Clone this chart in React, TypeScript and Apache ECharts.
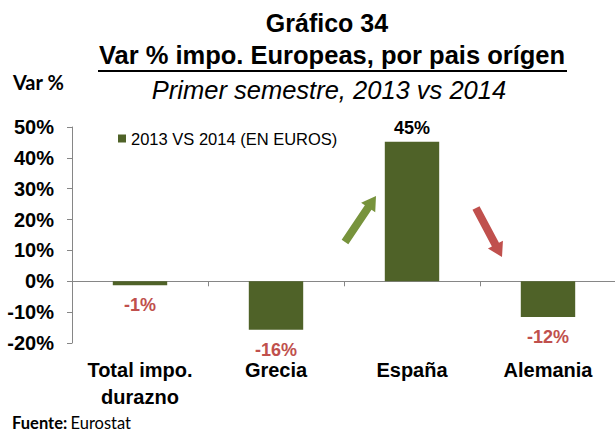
import React, { useEffect, useRef } from "react";
import * as echarts from "echarts";

const categories = ["Total impo.\ndurazno", "Grecia", "España", "Alemania"];
const values = [-1.3, -15.7, 45.2, -11.6];
const seriesName = "2013 VS 2014 (EN EUROS)";
const yTicks = { min: -20, max: 50, interval: 10 };

const BAR = "#4F6228";
const RED = "#C0504D";
const GREEN = "#77933C";
const AXIS = "#868686";
const FONT = "Liberation Sans, Arial, sans-serif";

function arrow(tail: number[], tip: number[], shaftW: number, headL: number, headW: number) {
  const dx = tip[0] - tail[0];
  const dy = tip[1] - tail[1];
  const len = Math.hypot(dx, dy);
  const ux = dx / len, uy = dy / len;
  const px = -uy, py = ux;
  const bx = tip[0] - ux * headL, by = tip[1] - uy * headL;
  const s = shaftW / 2, h = headW / 2;
  return [
    [tail[0] + px * s, tail[1] + py * s],
    [bx + px * s, by + py * s],
    [bx + px * h, by + py * h],
    [tip[0], tip[1]],
    [bx - px * h, by - py * h],
    [bx - px * s, by - py * s],
    [tail[0] - px * s, tail[1] - py * s],
  ];
}

export default function App() {
  const ref = useRef<HTMLDivElement>(null);
  useEffect(() => {
    document.body.style.margin = "0";
    const chart = echarts.init(ref.current!, null, { renderer: "svg" });
    chart.setOption({
      animation: false,
      backgroundColor: "#fff",
      textStyle: { fontFamily: FONT },
      grid: { left: 72, top: 127, width: 544, height: 216, containLabel: false, outerBoundsMode: "none" },
      legend: {
        left: 113,
        top: 125,
        itemWidth: 8,
        itemHeight: 8,
        icon: "rect",
        textStyle: { fontSize: 16.5, color: "#000", fontFamily: FONT },
        data: [seriesName],
      },
      xAxis: {
        type: "category",
        data: categories,
        axisLine: { show: true, onZero: true, lineStyle: { color: AXIS, width: 1 } },
        axisTick: { show: true, length: 5, alignWithLabel: false, lineStyle: { color: AXIS } },
        axisLabel: {
          margin: 13,
          fontSize: 20,
          fontWeight: "bold",
          color: "#000",
          lineHeight: 27,
          fontFamily: FONT,
          interval: 0,
        },
      },
      yAxis: {
        type: "value",
        min: yTicks.min,
        max: yTicks.max,
        interval: yTicks.interval,
        splitLine: { show: false },
        axisLine: { show: true, lineStyle: { color: AXIS } },
        axisTick: { show: true, length: 5, lineStyle: { color: AXIS } },
        axisLabel: {
          formatter: (v: number) => v + "%",
          fontSize: 20,
          fontWeight: "bold",
          color: "#000",
          margin: 18,
          fontFamily: FONT,
        },
      },
      series: [
        {
          name: seriesName,
          type: "bar",
          barWidth: "40%",
          itemStyle: { color: BAR },
          data: values.map((v) => ({
            value: v,
            label: {
              show: true,
              position: v < 0 ? "bottom" : "top",
              distance: v < 0 ? 11 : 5,
              color: v < 0 ? RED : "#000",
              fontSize: 18,
              fontWeight: "bold",
              fontFamily: FONT,
              formatter: () => Math.round(v) + "%",
            },
          })),
        },
      ],
      graphic: [
        {
          type: "text",
          x: 327,
          y: 23,
          style: { text: "Gráfico 34", font: `bold 25px ${FONT}`, fill: "#000", align: "center", verticalAlign: "middle" },
        },
        {
          type: "text",
          x: 332,
          y: 55,
          style: {
            text: "Var % impo. Europeas, por pais orígen",
            font: `bold 25.5px ${FONT}`,
            fill: "#000",
            align: "center",
            verticalAlign: "middle",
          },
        },
        {
          type: "line",
          shape: { x1: 98, y1: 71, x2: 567, y2: 71 },
          style: { stroke: "#000", lineWidth: 2 },
        },
        {
          type: "text",
          x: 329,
          y: 90,
          style: {
            text: "Primer semestre, 2013 vs 2014",
            font: `italic 25.5px ${FONT}`,
            fill: "#000",
            align: "center",
            verticalAlign: "middle",
          },
        },
        {
          type: "text",
          x: 13,
          y: 82,
          style: { text: "Var %", font: `bold 20px Lato, sans-serif`, fill: "#000", verticalAlign: "middle" },
        },
        {
          type: "text",
          x: 12,
          y: 423,
          style: {
            text: "{b|Fuente:} {r|Eurostat}",
            verticalAlign: "middle",
            rich: {
              b: { fontFamily: "Lato, sans-serif", fontWeight: "bold", fontSize: 16.5, fill: "#000" },
              r: { fontFamily: "Lato, sans-serif", fontSize: 16.5, fill: "#000" },
            },
          },
        },
        {
          type: "polygon",
          shape: { points: arrow([345, 242], [376, 196], 8, 14, 17) },
          style: { fill: GREEN },
        },
        {
          type: "polygon",
          shape: { points: arrow([476, 208], [502, 257], 8, 14, 17) },
          style: { fill: RED },
        },
      ],
    });
    return () => chart.dispose();
  }, []);
  return <div ref={ref} style={{ width: 615, height: 432 }} />;
}
